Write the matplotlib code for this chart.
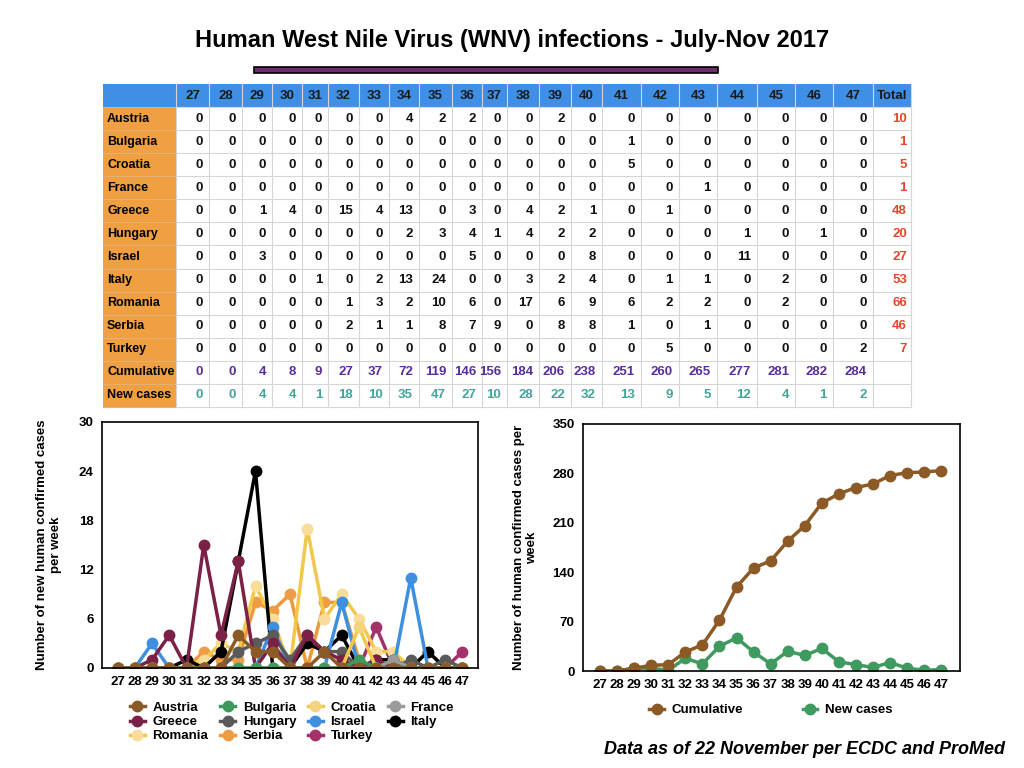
import matplotlib
matplotlib.use("Agg")
import matplotlib.pyplot as plt
from matplotlib.patches import Rectangle

plt.rcParams['font.family'] = ['Liberation Sans', 'DejaVu Sans']
plt.rcParams['font.weight'] = 'bold'

weeks = [27, 28, 29, 30, 31, 32, 33, 34, 35, 36, 37, 38, 39, 40, 41, 42, 43, 44, 45, 46, 47]
countries = ["Austria", "Bulgaria", "Croatia", "France", "Greece", "Hungary",
             "Israel", "Italy", "Romania", "Serbia", "Turkey"]
austria  = [0, 0, 0, 0, 0, 0, 0, 4, 2, 2, 0, 0, 2, 0, 0, 0, 0, 0, 0, 0, 0]
bulgaria = [0, 0, 0, 0, 0, 0, 0, 0, 0, 0, 0, 0, 0, 0, 1, 0, 0, 0, 0, 0, 0]
croatia  = [0, 0, 0, 0, 0, 0, 0, 0, 0, 0, 0, 0, 0, 0, 5, 0, 0, 0, 0, 0, 0]
france   = [0, 0, 0, 0, 0, 0, 0, 0, 0, 0, 0, 0, 0, 0, 0, 0, 1, 0, 0, 0, 0]
greece   = [0, 0, 1, 4, 0, 15, 4, 13, 0, 3, 0, 4, 2, 1, 0, 1, 0, 0, 0, 0, 0]
hungary  = [0, 0, 0, 0, 0, 0, 0, 2, 3, 4, 1, 4, 2, 2, 0, 0, 0, 1, 0, 1, 0]
israel   = [0, 0, 3, 0, 0, 0, 0, 0, 0, 5, 0, 0, 0, 8, 0, 0, 0, 11, 0, 0, 0]
italy    = [0, 0, 0, 0, 1, 0, 2, 13, 24, 0, 0, 3, 2, 4, 0, 1, 1, 0, 2, 0, 0]
romania  = [0, 0, 0, 0, 0, 1, 3, 2, 10, 6, 0, 17, 6, 9, 6, 2, 2, 0, 2, 0, 0]
serbia   = [0, 0, 0, 0, 0, 2, 1, 1, 8, 7, 9, 0, 8, 8, 1, 0, 1, 0, 0, 0, 0]
turkey   = [0, 0, 0, 0, 0, 0, 0, 0, 0, 0, 0, 0, 0, 0, 0, 5, 0, 0, 0, 0, 2]
totals = [10, 1, 5, 1, 48, 20, 27, 53, 66, 46, 7]
cumulative = [0, 0, 4, 8, 9, 27, 37, 72, 119, 146, 156, 184, 206, 238, 251, 260, 265, 277, 281, 282, 284]
new_cases = [0, 0, 4, 4, 1, 18, 10, 35, 47, 27, 10, 28, 22, 32, 13, 9, 5, 12, 4, 1, 2]

series = [austria, bulgaria, croatia, france, greece, hungary, israel, italy, romania, serbia, turkey]
line_colors = ["#8c5a26", "#3d9a5c", "#f2c84b", "#9a9a9a", "#7b2148", "#5a5a5a",
               "#3f8fe0", "#000000", "#f2c84b", "#ee9a3a", "#a3326a"]
marker_colors = ["#8c5a26", "#3d9a5c", "#f5d27c", "#9a9a9a", "#7b2148", "#5a5a5a",
                 "#3f8fe0", "#000000", "#f8dc98", "#ef9d45", "#a3326a"]

fig = plt.figure(figsize=(10.24, 7.68), dpi=100)

# page-level drawing area in pixel coords
bg = fig.add_axes([0, 0, 1, 1])
bg.set_xlim(0, 1024)
bg.set_ylim(768, 0)
bg.axis("off")

bg.text(512, 41, "Human West Nile Virus (WNV) infections - July-Nov 2017",
        ha="center", va="center", fontsize=17, fontweight="bold")
bg.add_patch(Rectangle((254, 67), 464, 6, facecolor="#6e2c6e", edgecolor="black", lw=1.2))
bg.text(1005, 750, "Data as of 22 November per ECDC and ProMed", ha="right", va="center",
        fontsize=13, fontweight="bold", style="italic")

# table
col_edges = [103, 176, 209, 242, 272, 302, 328, 359, 389, 419, 452, 482, 507,
             539, 571, 602, 641, 679, 717, 757, 795, 833, 873, 911]
row_top = 84
row_h = 23.07
header = [str(w) for w in weeks] + ["Total"]
row_names = countries + ["Cumulative", "New cases"]
n_rows = len(row_names) + 1

bg.add_patch(Rectangle((col_edges[0], row_top), col_edges[-1] - col_edges[0], row_h,
                       facecolor="#3f8fe6", edgecolor="none"))
bg.add_patch(Rectangle((col_edges[0], row_top + row_h), col_edges[1] - col_edges[0],
                       row_h * len(row_names), facecolor="#f0a040", edgecolor="none"))
for i in range(1, n_rows + 1):
    y = row_top + i * row_h
    bg.plot([col_edges[1], col_edges[-1]], [y, y], color="#d6d6d6", lw=0.8)
    bg.plot([col_edges[0], col_edges[1]], [y, y], color="#e8b070", lw=0.8)
for x in col_edges[1:]:
    bg.plot([x, x], [row_top, row_top + n_rows * row_h], color="#d6d6d6", lw=0.8)

for j, h in enumerate(header):
    x0, x1 = col_edges[j + 1], col_edges[j + 2]
    bg.text((x0 + x1) / 2, row_top + row_h / 2, h, ha="center", va="center",
            fontsize=9.5, fontweight="bold", color="#1a1a1a")

table_rows = series + [cumulative, new_cases]
for i, name in enumerate(row_names):
    yc = row_top + (i + 1.5) * row_h
    bg.text(col_edges[0] + 4, yc, name, ha="left", va="center", fontsize=9, fontweight="bold")
    if name == "Cumulative":
        tc = "#5a2d9c"
    elif name == "New cases":
        tc = "#45a39a"
    else:
        tc = "#111111"
    for j, v in enumerate(table_rows[i]):
        bg.text(col_edges[j + 2] - 6, yc, str(v), ha="right", va="center",
                fontsize=9.5, fontweight="bold", color=tc)
    if i < len(totals):
        bg.text(col_edges[-1] - 4, yc, str(totals[i]), ha="right", va="center",
                fontsize=9.5, fontweight="bold", color="#e2482e")

# left chart
ax1 = fig.add_axes([102 / 1024, 1 - 668 / 768, 376 / 1024, 246 / 768])
for name, vals, lc, mc in reversed(list(zip(countries, series, line_colors, marker_colors))):
    ax1.plot(weeks, vals, "-o", color=lc, mfc=mc, mec=mc, lw=2.5, ms=7.5, label=name)
ax1.set_ylim(0, 30)
ax1.set_xlim(26.1, 47.9)
ax1.set_yticks([0, 6, 12, 18, 24, 30])
ax1.set_xticks(weeks)
ax1.tick_params(length=0, labelsize=9.5, pad=6)
ax1.set_ylabel("Number of new human confirmed cases\nper week", fontsize=9.5,
               fontweight="bold", labelpad=12)
for sp in ax1.spines.values():
    sp.set_linewidth(1.2)
for lab in ax1.get_xticklabels() + ax1.get_yticklabels():
    lab.set_fontweight("bold")

handles, labels = ax1.get_legend_handles_labels()
lookup = dict(zip(labels, handles))
order = ["Austria", "Greece", "Romania", "Bulgaria", "Hungary", "Serbia",
         "Croatia", "Israel", "Turkey", "France", "Italy"]
fig.legend([lookup[o] for o in order], order, ncol=4, frameon=False,
           loc="center", bbox_to_anchor=(292 / 1024, 1 - 722 / 768),
           fontsize=9.5, handlelength=1.1, columnspacing=0.9,
           labelspacing=0.15, handletextpad=0.6)

# right chart
ax2 = fig.add_axes([583 / 1024, 1 - 671 / 768, 377 / 1024, 247 / 768])
ax2.plot(weeks, new_cases, "-o", color="#3f9a5f", lw=2.5, ms=7.5, label="New cases")
ax2.plot(weeks, cumulative, "-o", color="#8c5a26", lw=2.5, ms=7.5, label="Cumulative")
ax2.set_ylim(0, 350)
ax2.set_xlim(26, 48.1)
ax2.set_yticks([0, 70, 140, 210, 280, 350])
ax2.set_xticks(weeks)
ax2.tick_params(length=0, labelsize=9.5, pad=6)
ax2.set_ylabel("Number of human confirmed cases per\nweek", fontsize=9.5,
               fontweight="bold", labelpad=10)
for sp in ax2.spines.values():
    sp.set_linewidth(1.2)
for lab in ax2.get_xticklabels() + ax2.get_yticklabels():
    lab.set_fontweight("bold")
h2, l2 = ax2.get_legend_handles_labels()
fig.legend(h2[::-1], l2[::-1], ncol=2, frameon=False, loc="center",
           bbox_to_anchor=(771 / 1024, 1 - 710 / 768), fontsize=9.5,
           handlelength=1.1, columnspacing=4.5, handletextpad=0.6)

fig.savefig("out.png", dpi=100)
